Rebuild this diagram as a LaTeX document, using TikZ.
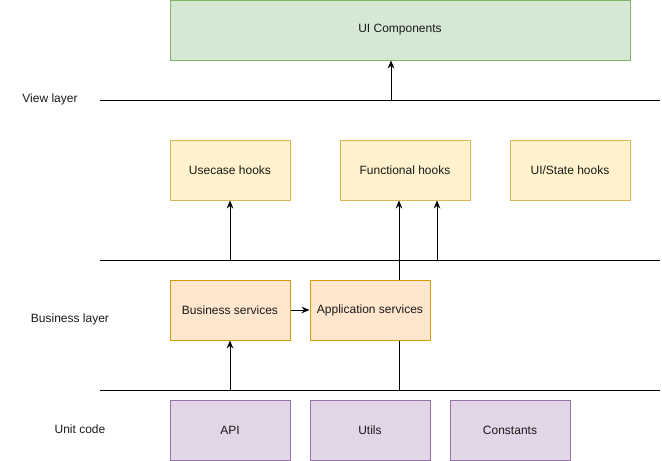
\documentclass[tikz,border=0pt]{standalone}
\usepackage{fontspec}
\setmainfont{Liberation Sans}
\usetikzlibrary{arrows.meta}
\definecolor{gfill}{HTML}{D5E8D4}\definecolor{gdraw}{HTML}{82B366}
\definecolor{yfill}{HTML}{FFF2CC}\definecolor{ydraw}{HTML}{D6B656}
\definecolor{ofill}{HTML}{FFE6CC}\definecolor{odraw}{HTML}{D79B00}
\definecolor{pfill}{HTML}{E1D5E7}\definecolor{pdraw}{HTML}{9673A6}
\begin{document}
\begin{tikzpicture}[x=0.75pt,y=-0.75pt,
  box/.style={draw, line width=0.75pt, minimum height=45pt, inner sep=0pt, font=\fontsize{9}{11}\selectfont, text=black!90},
  w120/.style={minimum width=90pt},
  green/.style={box, fill=gfill, draw=gdraw},
  yel/.style={box, fill=yfill, draw=ydraw},
  ora/.style={box, fill=ofill, draw=odraw},
  pur/.style={box, fill=pfill, draw=pdraw},
  lbl/.style={font=\fontsize{9}{11}\selectfont, text=black!90},
  sep/.style={line width=0.75pt},
  arr/.style={line width=0.75pt, -{Stealth[length=6pt,width=5pt]}}]
\useasboundingbox (0,0) rectangle (662,461);
% separator lines
\coordinate (v1) at (100,100); \coordinate (v2) at (660,100);
\coordinate (b1) at (100,260); \coordinate (b2) at (660,260);
\coordinate (u1) at (100,390); \coordinate (u2) at (660,390);
\draw[sep] (v1) -- (v2);
\draw[sep] (b1) -- (b2);
\draw[sep] (u1) -- (u2);
% labels
\node[lbl] (lview) at (50,99) {View layer};
\node[lbl] (lbus) at (70,319) {Business layer};
\node[lbl] (lunit) at (80,429) {Unit code};
% boxes
\node[green, minimum width=345pt] (ui) at (400,30) {UI Components};
\node[yel, w120] (use) at (230,170) {Usecase hooks};
\node[yel, minimum width=97.5pt] (func) at (405,170) {Functional hooks};
\node[yel, w120] (state) at (570,170) {UI/State hooks};
\node[ora, w120] (bus) at (230,310) {Business services};
\node[ora, w120] (app) at (370,310) {Application services};
\node[pur, w120] (api) at (230,430) {API};
\node[pur, w120] (utils) at (370,430) {Utils};
\node[pur, w120] (const) at (510,430) {Constants};
% connectors
\coordinate (a0) at (391,100);
\draw[arr] (a0) -- (a0 |- ui.south);
\coordinate (a1) at (230,260);
\draw[arr] (a1) -- (use.south);
\coordinate (a2) at (437,260);
\draw[arr] (a2) -- (a2 |- func.south);
\coordinate (a3) at (399,390);
\draw[sep] (a3) -- (a3 |- app.south);
\draw[arr] (a3 |- app.north) -- (a3 |- func.south);
\coordinate (a4) at (230,390);
\draw[arr] (a4) -- (bus.south);
\draw[arr] (bus.east) -- (app.west);
\end{tikzpicture}
\end{document}
